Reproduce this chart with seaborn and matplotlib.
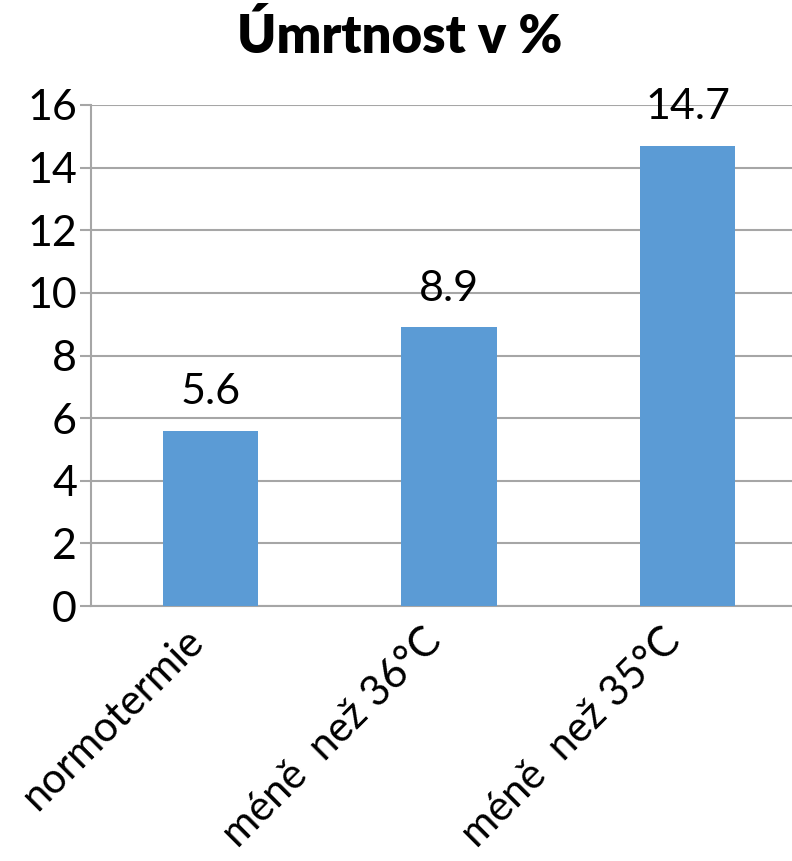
import matplotlib
matplotlib.use("Agg")
import matplotlib.pyplot as plt
import matplotlib.transforms as mtransforms
from matplotlib.ticker import FixedLocator
import seaborn as sns
import pandas as pd

categories = ["normotermie", "méně  než 36°C", "méně  než 35°C"]
mortality = [5.6, 8.9, 14.7]
y_ticks = [0, 2, 4, 6, 8, 10, 12, 14, 16]

sns.set_theme(style="white")
plt.rcParams["font.family"] = ["Lato", "DejaVu Sans"]

df = pd.DataFrame({"skupina": categories, "umrtnost": mortality})

fig = plt.figure(figsize=(7.92, 8.61), dpi=100)
ax = fig.add_axes([91 / 792, 1 - 606 / 861, 716 / 792, (606 - 105) / 861])

sns.barplot(data=df, x="skupina", y="umrtnost", color="#5B9BD5",
            saturation=1, width=0.4, linewidth=0, ax=ax, zorder=3)

grid_col = "#A6A6A6"
ax.set_ylim(0, 16)
ax.set_xlim(-0.5, len(categories) - 0.5)
ax.set_yticks(y_ticks)
ax.set_yticklabels([str(t) for t in y_ticks], fontsize=31, color="black")
ax.yaxis.grid(True, color=grid_col, linewidth=1.5, zorder=0)
ax.set_axisbelow(True)

ax.set_xticks(range(len(categories)))
ax.set_xticklabels(categories, rotation=45, ha="right", va="top",
                   rotation_mode="default", fontsize=30, color="black")
# nudge the rotated category labels slightly to the right
shift = mtransforms.ScaledTranslation(9 / 100, 0, fig.dpi_scale_trans)
for lbl in ax.get_xticklabels():
    lbl.set_transform(lbl.get_transform() + shift)
ax.xaxis.set_minor_locator(FixedLocator([i - 0.5 for i in range(len(categories) + 1)]))
ax.tick_params(axis="x", which="major", length=0, pad=11)
ax.tick_params(axis="x", which="minor", length=8, width=1.5, color=grid_col, direction="out")
ax.tick_params(axis="y", which="major", length=8, width=1.5, color=grid_col,
               direction="out", pad=2, left=True)

for side in ["top", "right"]:
    ax.spines[side].set_visible(False)
for side in ["left", "bottom"]:
    ax.spines[side].set_color(grid_col)
    ax.spines[side].set_linewidth(1.5)

ax.set_xlabel("")
ax.set_ylabel("")

for i, v in enumerate(mortality):
    ax.annotate(f"{v}", (i, v), xytext=(0, 14), textcoords="offset points",
                ha="center", va="bottom", fontsize=31, color="black")

fig.text(400 / 792, 1 - 37 / 861, "Úmrtnost v %", ha="center", va="center",
         fontsize=38, fontweight="heavy", color="black")

fig.savefig("out.png", dpi=100)
